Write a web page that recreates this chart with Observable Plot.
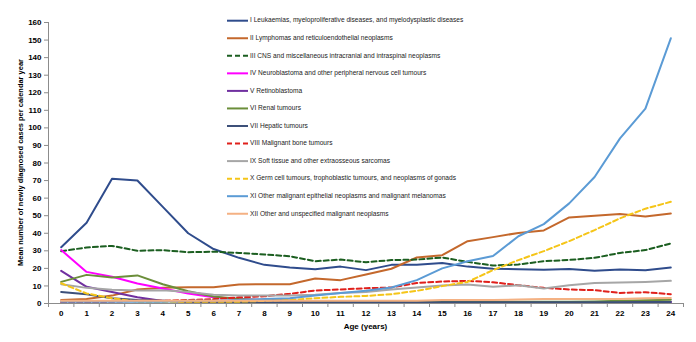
<!DOCTYPE html>
<html>
<head>
<meta charset="utf-8">
<script src="https://cdn.jsdelivr.net/npm/d3@7"></script>
<script src="https://cdn.jsdelivr.net/npm/@observablehq/plot@0.6"></script>
<style>
  body { margin: 0; background: #fff; }
  #chart { width: 696px; height: 342px; }
</style>
</head>
<body>
<div id="chart"></div>
<script>
// Age in completed years
const ages = [0, 1, 2, 3, 4, 5, 6, 7, 8, 9, 10, 11, 12, 13, 14, 15, 16, 17, 18, 19, 20, 21, 22, 23, 24];
const yTicks = [0, 10, 20, 30, 40, 50, 60, 70, 80, 90, 100, 110, 120, 130, 140, 150, 160];

// Diagnostic groups (ICCC-3)
const groupNames = [
  "I Leukaemias, myeloproliferative diseases, and myelodysplastic diseases",
  "II Lymphomas and reticuloendothelial neoplasms",
  "III CNS and miscellaneous intracranial and intraspinal neoplasms",
  "IV Neuroblastoma and other peripheral nervous cell tumours",
  "V Retinoblastoma",
  "VI Renal tumours",
  "VII Hepatic tumours",
  "VIII Malignant bone tumours",
  "IX Soft tissue and other extraosseous sarcomas",
  "X Germ cell tumours, trophoblastic tumours, and neoplasms of gonads",
  "XI Other malignant epithelial neoplasms and malignant melanomas",
  "XII Other and unspecified malignant neoplasms"
];

// Mean number of newly diagnosed cases per calendar year, by age 0–24
const leukaemias = [32, 46, 71, 70, 55, 40, 31, 26, 22, 20.5, 19.5, 21, 19, 22, 22, 23, 21, 19.8, 19.5, 19.2, 19.6, 18.6, 19.3, 18.9, 20.5];
const lymphomas  = [2, 2.5, 4.5, 8, 9, 9.3, 9.3, 10.8, 11, 11, 14.2, 13.3, 16.5, 19.8, 26.2, 27.5, 35.5, 37.8, 40.2, 41.6, 49, 50, 50.9, 49.5, 51.3];
const cns        = [29.8, 31.9, 32.8, 30, 30.4, 29.2, 29.5, 28.8, 27.9, 26.9, 24.1, 25, 23.5, 24.7, 25, 26.2, 23.7, 21.6, 22.2, 24.1, 24.8, 26, 28.8, 30.4, 34.2];
const neuro      = [30.4, 18, 15.2, 11.4, 8.5, 5.7, 3.5, 2.5, 2, 1.5, 1, 1, 0.8, 0.8, 0.7, 0.7, 0.6, 0.6, 0.5, 0.5, 0.5, 0.5, 0.5, 0.5, 0.5];
const retino     = [18.6, 9.5, 6.5, 3.5, 1.5, 1, 0.8, 0.7, 0.6, 0.5, 0.5, 0.5, 0.5, 0.5, 0.5, 0.5, 0.5, 0.5, 0.5, 0.5, 0.5, 0.6, 0.7, 0.8, 1];
const renal      = [12.3, 16.3, 14.8, 16, 11, 7, 4, 2.5, 2, 1.5, 1.2, 1, 1, 1, 1, 1, 1, 1, 1, 1, 1, 1.2, 1.5, 1.8, 2.2];
const hepatic    = [6.6, 5.2, 3, 2, 1.5, 1, 1, 0.8, 0.8, 0.8, 0.7, 0.7, 0.7, 0.7, 0.7, 0.7, 0.7, 0.7, 0.7, 0.7, 0.7, 0.7, 0.7, 0.8, 0.8];
const bone       = [0.5, 0.5, 1, 1.5, 1.5, 2, 2.5, 3.5, 4.1, 5.5, 7.4, 8, 8.7, 9.1, 11.7, 12.5, 12.9, 12.1, 10.4, 8.9, 8, 7.6, 6, 6.4, 5.3];
const softTissue = [11, 8.9, 7.8, 7.4, 7.6, 6.6, 5, 4.5, 4.5, 4.5, 5, 6, 6.6, 8, 9.1, 10.2, 10.8, 9.5, 10.4, 8.5, 10.4, 11.7, 12, 12.3, 12.9];
const germCell   = [11.5, 5.7, 3, 1, 1, 1, 1, 1, 1.5, 2, 3, 3.8, 4.3, 5.3, 7.2, 9.9, 12.3, 19, 24.7, 29.8, 35.5, 41.8, 48.5, 54, 57.9];
const epithelial = [1, 1, 1, 1, 1, 1.5, 1.5, 2, 2.5, 3, 4.5, 6, 7.2, 9.1, 13.3, 20, 24.1, 27, 38.3, 45.2, 57, 72, 94, 111, 151];
const otherUnspec= [1.5, 1.5, 1.5, 1.5, 1.5, 1.5, 1.5, 1.5, 1.5, 1.5, 1.5, 1.5, 1.5, 1.5, 1.5, 2, 2, 2, 2.3, 2.5, 2.5, 2.5, 2.6, 3, 3.2];

const seriesValues = [leukaemias, lymphomas, cns, neuro, retino, renal, hepatic, bone, softTissue, germCell, epithelial, otherUnspec];
const seriesColors = ["#2f4c8c", "#c4682c", "#1b5e20", "#ff00ff", "#7030a0", "#6b8e3a", "#3d5079", "#e0201b", "#a6a6a6", "#f5c518", "#5b9bd5", "#f4b183"];
const seriesDashed = [false, false, true, false, false, false, false, true, false, true, false, false];

const rows = groupNames.map((name, i) => ages.map((age, j) => ({group: name, age, value: seriesValues[i][j]})));

const fontFamily = "'Liberation Sans', Arial, sans-serif";
const axisGray = "#8c8c8c";

const lineMarks = rows.map((data, i) => Plot.line(data, {
  x: "age",
  y: "value",
  stroke: seriesColors[i],
  strokeWidth: 2,
  strokeDasharray: seriesDashed[i] ? "5,3" : null,
  strokeLinejoin: "round"
}));

// Category-axis tick marks sit between the age labels
const betweenTicks = [ages[0] - 0.5, ...ages.map(a => a + 0.5)];

const chart = Plot.plot({
  width: 696,
  height: 342,
  marginLeft: 48,
  marginRight: 13,
  marginTop: 22,
  marginBottom: 39,
  style: {fontFamily, background: "#fff", color: "#000"},
  x: {type: "linear", domain: [ages[0] - 0.5, ages[ages.length - 1] + 0.5]},
  y: {domain: [0, 160]},
  marks: [
    Plot.axisY({ticks: yTicks, tickSize: 4, tickPadding: 3, fontSize: 8, fontWeight: "bold", stroke: axisGray, label: null}),
    Plot.axisX({ticks: betweenTicks, tickSize: 4, tickFormat: () => "", stroke: axisGray, label: null}),
    Plot.axisX({ticks: ages, tickSize: 0, tickPadding: 7, fontSize: 8, fontWeight: "bold", label: null}),
    ...lineMarks,
    Plot.frame({anchor: "left", stroke: axisGray}),
    Plot.frame({anchor: "bottom", stroke: axisGray})
  ]
});

const svg = d3.select(chart);

// Axis titles
svg.append("text")
  .attr("transform", "translate(21,162.5) rotate(-90)")
  .attr("text-anchor", "middle")
  .attr("dominant-baseline", "middle")
  .attr("font-family", fontFamily)
  .attr("font-size", 7.8)
  .attr("font-weight", "bold")
  .attr("textLength", 207)
  .attr("lengthAdjust", "spacingAndGlyphs")
  .text("Mean number of newly diagnosed cases per calendar year");

svg.append("text")
  .attr("x", 365.5)
  .attr("y", 327)
  .attr("text-anchor", "middle")
  .attr("dominant-baseline", "middle")
  .attr("font-family", fontFamily)
  .attr("font-size", 8)
  .attr("font-weight", "bold")
  .text("Age (years)");

// Legend inside the plot area
const legend = svg.append("g")
  .attr("font-family", fontFamily)
  .attr("font-size", 6.6)
  .attr("text-anchor", "start");
groupNames.forEach((name, i) => {
  const y = 20.7 + i * 17.55;
  legend.append("line")
    .attr("x1", 227).attr("x2", 248).attr("y1", y).attr("y2", y)
    .attr("stroke", seriesColors[i])
    .attr("stroke-width", 2)
    .attr("stroke-dasharray", seriesDashed[i] ? "5,3" : null);
  legend.append("text")
    .attr("x", 250).attr("y", y)
    .attr("text-anchor", "start")
    .attr("dominant-baseline", "middle")
    .attr("fill", "#222")
    .text(name);
});

document.getElementById("chart").appendChild(chart);
</script>
</body>
</html>
